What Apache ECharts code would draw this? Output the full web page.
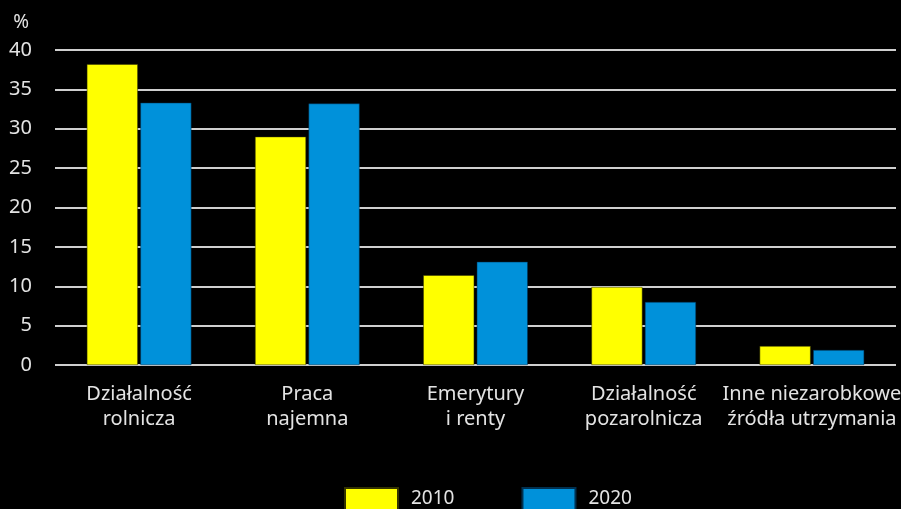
<!DOCTYPE html>
<html><head><meta charset="utf-8">
<script src="https://cdn.jsdelivr.net/npm/echarts@6/dist/echarts.min.js"></script>
<style>html,body{margin:0;padding:0;background:#000}#c{width:901px;height:509px}</style>
</head><body><div id="c"></div>
<script>
const categories = ['Działalność\nrolnicza', 'Praca\nnajemna', 'Emerytury\ni renty', 'Działalność\npozarolnicza', 'Inne niezarobkowe\nźródła utrzymania'];
const series2010 = [38.2, 29.0, 11.4, 9.9, 2.4];
const series2020 = [33.3, 33.2, 13.1, 8.0, 1.9];
const yTicks = [0, 5, 10, 15, 20, 25, 30, 35, 40];
const font = 'Noto Sans';
const txt = '#e3e3e3';
const chart = echarts.init(document.getElementById('c'), null, {renderer: 'canvas'});
chart.setOption({
  backgroundColor: '#000',
  animation: false,
  textStyle: {fontFamily: font},
  grid: {left: 55, right: 5, top: 50, bottom: 144, containLabel: false, outerBoundsMode: 'none'},
  legend: {
    data: ['2010', '2020'], left: 339, top: 482, itemWidth: 53, itemHeight: 22, itemGap: 67,
    icon: 'rect',
    textStyle: {color: txt, fontSize: 19, fontFamily: font, padding: [0, 0, 0, 8]}
  },
  xAxis: {
    type: 'category', data: categories,
    axisLine: {show: false}, axisTick: {show: false},
    axisLabel: {color: txt, fontSize: 20, lineHeight: 25, margin: 17, interval: 0, fontFamily: font, hideOverlap: false}
  },
  yAxis: {
    type: 'value', min: 0, max: 40, interval: 5,
    name: '%', nameLocation: 'end', nameGap: 18,
    nameTextStyle: {color: txt, fontSize: 19, align: 'right', padding: [0, 26, 0, 0]},
    axisLine: {show: false}, axisTick: {show: false},
    axisLabel: {color: txt, fontSize: 20, margin: 23, formatter: v => yTicks.includes(v) ? String(v) : ''},
    splitLine: {lineStyle: {color: '#cfcfcf', width: 2}}
  },
  series: [
    {name: '2010', type: 'bar', data: series2010, barWidth: 51, barGap: '5%',
     itemStyle: {color: '#ffff00', borderColor: '#333300', borderWidth: 0.5}},
    {name: '2020', type: 'bar', data: series2020, barWidth: 51, barGap: '5%',
     itemStyle: {color: '#0091da', borderColor: '#003050', borderWidth: 0.5}}
  ]
});
</script></body></html>
